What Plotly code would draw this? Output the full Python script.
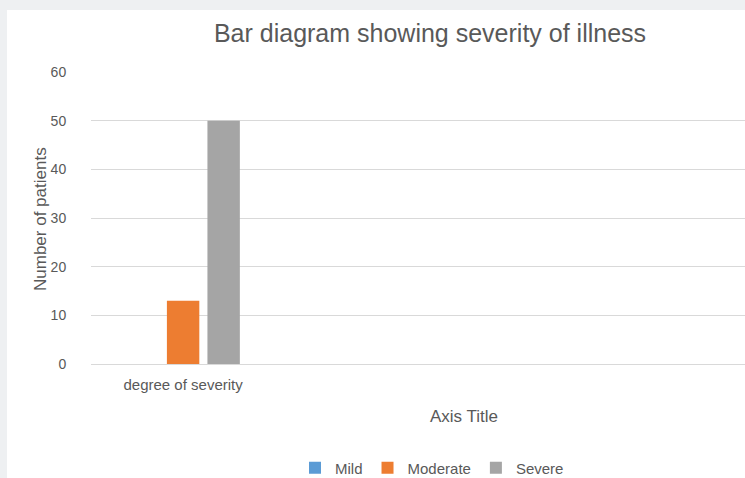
import plotly.graph_objects as go

categories = ["degree of severity"]
series_names = ["Mild", "Moderate", "Severe"]
mild = [0]
moderate = [13]
severe = [50]
colors = ["#5b9bd5", "#ed7d31", "#a5a5a5"]
y_ticks = [0, 10, 20, 30, 40, 50, 60]

W, H = 745, 478
ML, MR, MT, MB = 91, 0, 72, 114
FONT = "Liberation Sans, Arial"
TXT = "#595959"

fig = go.Figure()
for name, vals, c in zip(series_names, [mild, moderate, severe], colors):
    fig.add_trace(go.Bar(x=[0], y=vals, name=name, marker=dict(color=c, line=dict(width=0))))

pw, ph = W - ML - MR, H - MT - MB


def px_x(x):
    return (x - ML) / pw


def px_y(y):
    return (H - MB - y) / ph


fig.update_layout(
    width=W, height=H,
    margin=dict(l=ML, r=MR, t=MT, b=MB, pad=0),
    paper_bgcolor="white", plot_bgcolor="white",
    barmode="group", bargap=0.34, bargroupgap=0.2,
    font=dict(family=FONT, color=TXT, size=13),
    title=dict(text="Bar diagram showing severity of illness",
               x=430 / W, xref="container", xanchor="center",
               y=1 - 33 / H, yref="container", yanchor="middle",
               font=dict(size=25, color=TXT, family=FONT)),
    xaxis=dict(range=[-0.5, 3.05], tickvals=[0], ticktext=categories,
               showgrid=False, zeroline=False, showline=False,
               ticks="outside", ticklen=7, tickcolor="rgba(0,0,0,0)",
               tickfont=dict(size=15, color=TXT, family=FONT)),
    yaxis=dict(range=[0, 60], tickvals=y_ticks, showgrid=True, gridcolor="#d9d9d9",
               gridwidth=1, zeroline=True, zerolinecolor="#d9d9d9", zerolinewidth=1,
               ticks="outside", ticklen=21, tickcolor="rgba(0,0,0,0)",
               tickfont=dict(size=14, color=TXT, family=FONT)),
    showlegend=True,
    legend=dict(orientation="h", x=432 / W, xref="container", xanchor="center",
                y=1 - 468 / H, yref="container", yanchor="middle",
                font=dict(size=15, color=TXT, family=FONT),
                itemwidth=30, traceorder="normal"),
    annotations=[
        dict(text="Number of patients", textangle=-90, x=px_x(40), y=px_y(219),
             xref="paper", yref="paper", xanchor="center", yanchor="middle",
             showarrow=False, font=dict(size=17, color=TXT, family=FONT)),
        dict(text="Axis Title", x=px_x(464), y=px_y(416), xref="paper", yref="paper",
             xanchor="center", yanchor="middle",
             showarrow=False, font=dict(size=17, color=TXT, family=FONT)),
    ],
)

# page frame strips (light gray border around the chart)
fig.add_shape(type="rect", xref="paper", yref="paper",
              x0=px_x(0), x1=px_x(7), y0=px_y(H), y1=px_y(0),
              fillcolor="#eef0f2", line=dict(width=0), layer="below")
fig.add_shape(type="rect", xref="paper", yref="paper",
              x0=px_x(0), x1=px_x(W), y0=px_y(10), y1=px_y(0),
              fillcolor="#eef0f2", line=dict(width=0), layer="below")

fig.write_html("out.html", config={"displayModeBar": False},
               post_script="document.body.style.margin='0';document.body.style.overflow='hidden';")
